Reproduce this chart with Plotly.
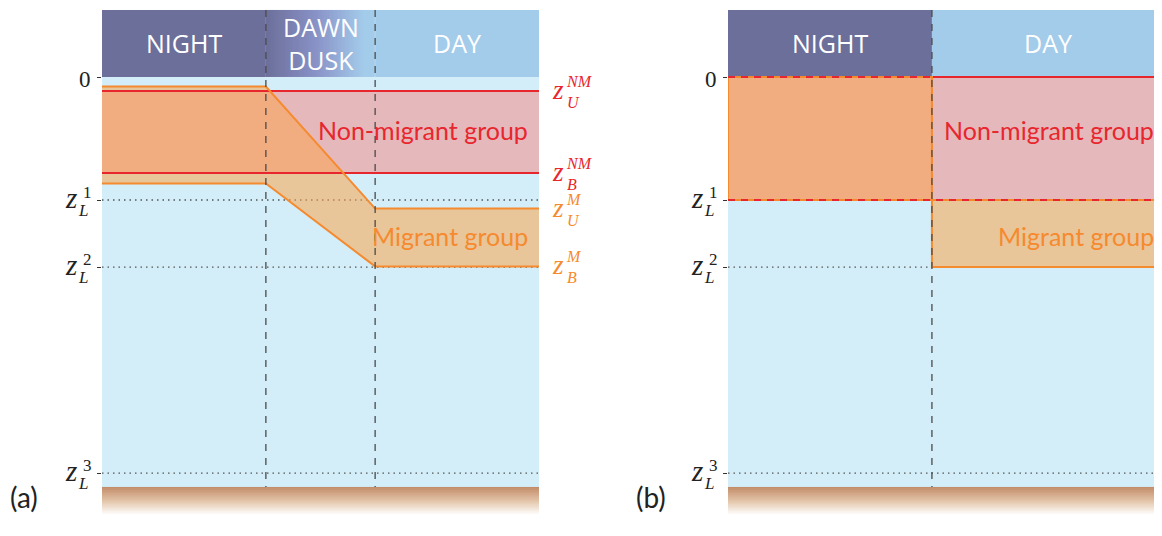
import numpy as np
import plotly.graph_objects as go

# ---------------- data ----------------
depth_ticks = [0.0, 1.0, 1.545, 3.22]          # 0, z_L^1, z_L^2, z_L^3
depth_tick_sup = ["", "1", "2", "3"]
header_top = -0.545
seabed_top = 3.333
seabed_bottom = 3.56

phases_a = ["NIGHT", "DAWN<br>DUSK", "DAY"]
edges_a = [0, 9, 15, 24]                       # hours
phases_b = ["NIGHT", "DAY"]
edges_b = [0, 11.2, 24]

nm_a = [0.114, 0.78]          # z_U^NM, z_B^NM
m_a_night = [0.077, 0.866]
m_a_day = [1.07, 1.54]        # z_U^M, z_B^M

nm_b = [0.0, 1.0]
m_b_night = [0.0, 1.0]
m_b_day = [1.0, 1.545]

group_names = ["Non-migrant group", "Migrant group"]
group_label_depth = [0.43, 1.29]
right_labels_a = [("NM", "U"), ("NM", "B"), ("M", "U"), ("M", "B")]
panel_tags = ["(a)", "(b)"]

# ---------------- styles ----------------
# the page body has an 8px margin, so the figure is drawn 8px smaller and
# every pixel position below is measured from the figure's own corner
PAGE = 8
W, H = 1162 - PAGE, 536 - PAGE
def px(v):
    return v - PAGE

C_NIGHT = "#6c6f9a"
C_DAWN_MID = "#8891c6"
C_DAY = "#a3cbea"
C_WATER = "#d3eef9"
C_NM_FILL = "#e5b8bc"
C_M_FILL = "rgba(249,164,80,0.56)"
C_RED = "#e8262d"
C_ORANGE = "#f58a2e"
C_SEABED = "#c38d69"
C_GRID = "#4a4a4a"
SERIF = "Liberation Serif"
SANS = "Lato"
HEAD = "Open Sans"

fig = go.Figure()
shapes, anns = [], []

panels = [
    dict(xr="x", yr="y", edges=edges_a, names=phases_a),
    dict(xr="x2", yr="y2", edges=edges_b, names=phases_b),
]
XMAX = edges_a[-1]

for p in panels:
    xr, yr = p["xr"], p["yr"]
    shapes.append(dict(type="rect", xref=xr, yref=yr, x0=0, x1=XMAX, y0=0, y1=seabed_top,
                       fillcolor=C_WATER, line_width=0, layer="below"))
    for name, x0, x1 in zip(p["names"], p["edges"][:-1], p["edges"][1:]):
        col = {"NIGHT": C_NIGHT, "DAY": C_DAY}.get(name)
        if col:
            shapes.append(dict(type="rect", xref=xr, yref=yr, x0=x0, x1=x1, y0=header_top, y1=0,
                               fillcolor=col, line_width=0, layer="below"))
        anns.append(dict(xref=xr, yref=yr, x=(x0 + x1) / 2, y=header_top / 2, text=name,
                         showarrow=False, font=dict(family=HEAD, size=25, color="white")))

# dawn / dusk gradient
n = 80
xe = np.linspace(edges_a[1], edges_a[2], n + 1)
fig.add_trace(go.Heatmap(x=xe, y=[header_top, 0], z=[np.linspace(0, 1, n)],
                         colorscale=[[0, C_NIGHT], [0.45, C_DAWN_MID], [0.9, C_DAY], [1, C_DAY]],
                         zmin=0, zmax=1, showscale=False, hoverinfo="skip", xaxis="x", yaxis="y"))
# seabed gradient
ns = 40
ye = np.linspace(seabed_top, seabed_bottom, ns + 1)
for p in panels:
    fig.add_trace(go.Heatmap(x=[0, XMAX], y=ye, z=[[v] for v in np.linspace(0, 1, ns)],
                             colorscale=[[0, C_SEABED], [0.5, "#e3c4a9"], [1, "#ffffff"]],
                             zmin=0, zmax=1, showscale=False, hoverinfo="skip",
                             xaxis=p["xr"], yaxis=p["yr"]))

# dotted depth levels
for p in panels:
    xs, ys = [], []
    for d in depth_ticks[1:]:
        xs += [0, XMAX, None]
        ys += [d, d, None]
    fig.add_trace(go.Scatter(x=xs, y=ys, mode="lines", hoverinfo="skip",
                             line=dict(color="#555555", width=1.3, dash="1.5px,4px"),
                             xaxis=p["xr"], yaxis=p["yr"]))

def line(xs, ys, color, xr, yr, dash="solid", width=2):
    fig.add_trace(go.Scatter(x=xs, y=ys, mode="lines", hoverinfo="skip",
                             line=dict(color=color, width=width, dash=dash),
                             xaxis=xr, yaxis=yr))

def fill(xs, ys, color, xr, yr):
    fig.add_trace(go.Scatter(x=xs, y=ys, mode="lines", fill="toself", fillcolor=color,
                             line=dict(width=0), hoverinfo="skip", xaxis=xr, yaxis=yr))

# ---- panel (a) ----
e = edges_a
fill([0, XMAX, XMAX, 0], [nm_a[0], nm_a[0], nm_a[1], nm_a[1]], C_NM_FILL, "x", "y")
m_top_x = [e[0], e[1], e[2], e[3]]
m_top_y = [m_a_night[0], m_a_night[0], m_a_day[0], m_a_day[0]]
m_bot_y = [m_a_night[1], m_a_night[1], m_a_day[1], m_a_day[1]]
fill(m_top_x + m_top_x[::-1], m_top_y + m_bot_y[::-1], C_M_FILL, "x", "y")
line([0, XMAX, None, 0, XMAX], [nm_a[0], nm_a[0], None, nm_a[1], nm_a[1]], C_RED, "x", "y")
line(m_top_x + [None] + m_top_x, m_top_y + [None] + m_bot_y, C_ORANGE, "x", "y")

# ---- panel (b) ----
b = edges_b
fill([0, XMAX, XMAX, 0], [nm_b[0], nm_b[0], nm_b[1], nm_b[1]], C_NM_FILL, "x2", "y2")
mx = [b[0], b[1], b[1], b[0], b[0], None, b[1], b[2], b[2], b[1], b[1]]
my = [m_b_night[0], m_b_night[0], m_b_night[1], m_b_night[1], m_b_night[0], None,
      m_b_day[0], m_b_day[0], m_b_day[1], m_b_day[1], m_b_day[0]]
fill(mx, my, C_M_FILL, "x2", "y2")
nmx = [0, XMAX, None, 0, XMAX]
nmy = [nm_b[0], nm_b[0], None, nm_b[1], nm_b[1]]
line(nmx, nmy, C_RED, "x2", "y2")
line(mx, my, C_ORANGE, "x2", "y2")
line(nmx, nmy, C_RED, "x2", "y2", dash="7px,6px")

# vertical dashed phase separators
for p in panels:
    xs, ys = [], []
    for x in p["edges"][1:-1]:
        xs += [x, x, None]
        ys += [header_top, seabed_top, None]
    line(xs, ys, C_GRID, p["xr"], p["yr"], dash="7px,7px", width=1.3)

# ---- labels ----
for p, tag, off in zip(panels, panel_tags, [0, 626]):
    xr, yr = p["xr"], p["yr"]
    dom = xr + " domain"
    for d, s in zip(depth_ticks, depth_tick_sup):
        if s == "":
            anns.append(dict(xref=dom, yref=yr, x=0, y=d, xanchor="right", xshift=-9, yshift=-2,
                             text="0", showarrow=False, font=dict(family=SERIF, size=23, color="#222")))
        else:
            anns.append(dict(xref=dom, yref=yr, x=0, y=d, xanchor="right", xshift=-23, yshift=2,
                             text="<i>z</i>", showarrow=False, font=dict(family=SERIF, size=29, color="#222")))
            anns.append(dict(xref=dom, yref=yr, x=0, y=d, xanchor="left", xshift=-21, yshift=8,
                             text=s, showarrow=False, font=dict(family=SERIF, size=17, color="#222")))
            anns.append(dict(xref=dom, yref=yr, x=0, y=d, xanchor="left", xshift=-26, yshift=-10,
                             text="<i>L</i>", showarrow=False, font=dict(family=SERIF, size=17, color="#222")))
    for name, dep, col in zip(group_names, group_label_depth, [C_RED, C_ORANGE]):
        anns.append(dict(xref=xr, yref=yr, x=23.5, y=dep, xanchor="right", text=name,
                         showarrow=False, font=dict(family=SANS, size=25, color=col)))
    anns.append(dict(xref="paper", yref="paper", x=px(8 + off) / W, y=1 - px(516) / H,
                     xanchor="left", text=tag, showarrow=False,
                     font=dict(family=SANS, size=28, color="#222")))

for (sup, sub), d, col in zip(right_labels_a, nm_a + m_a_day, [C_RED, C_RED, C_ORANGE, C_ORANGE]):
    anns.append(dict(xref="x domain", yref="y", x=1, y=d, xanchor="left", xshift=11, yshift=1,
                     text="<i>z</i>", showarrow=False, font=dict(family=SERIF, size=27, color=col)))
    anns.append(dict(xref="x domain", yref="y", x=1, y=d, xanchor="left", align="left",
                     xshift=25, yshift=-1, text="<i>" + sup + "</i><br><i>" + sub + "</i>",
                     showarrow=False, font=dict(family=SERIF, size=16, color=col)))

yrange = [(px(536) - px(77)) / 123, -px(77) / 123]
yax = dict(range=yrange, domain=[0, 1], showgrid=False, zeroline=False, showline=False,
           ticks="outside", ticklen=4, tickwidth=1.3, tickcolor="#333", tickvals=depth_ticks,
           showticklabels=False, fixedrange=True)
fig.update_layout(
    width=W, height=H, margin=dict(l=0, r=0, t=0, b=0),
    paper_bgcolor="white", plot_bgcolor="rgba(0,0,0,0)", showlegend=False,
    xaxis=dict(domain=[px(102) / W, px(539) / W], range=[0, XMAX], visible=False, fixedrange=True),
    xaxis2=dict(domain=[px(728) / W, 1.0], range=[0, XMAX * (W - px(728)) / 437],
                visible=False, fixedrange=True),
    yaxis=dict(yax, anchor="x"),
    yaxis2=dict(yax, anchor="x2"),
    shapes=shapes, annotations=anns,
)
fig.write_html("out.html")
